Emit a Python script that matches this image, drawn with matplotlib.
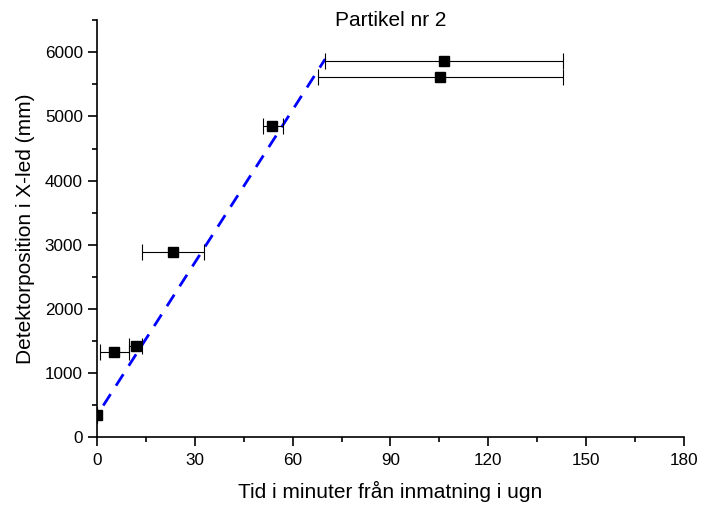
import numpy as np
from matplotlib import pyplot as plt
from matplotlib.ticker import MultipleLocator

plt.rcParams['font.family'] = ['Liberation Sans', 'DejaVu Sans']

# Measured points (time in minutes, detector position in mm)
tid = [0.0, 5.3, 12.0, 23.5, 53.8, 106.5, 105.2]
position = [350, 1330, 1430, 2890, 4855, 5870, 5610]
tid_min = [0.0, 1.0, 9.9, 13.9, 51.0, 69.8, 67.8]
tid_max = [0.0, 9.9, 13.9, 32.9, 57.0, 143.0, 143.0]

# Fitted line
fit_x = [2.0, 70.0]
fit_y = [495, 5895]


def main():
    tid_arr = np.array(tid)
    xerr = np.array([tid_arr - np.array(tid_min), np.array(tid_max) - tid_arr])

    fig = plt.figure(figsize=(7.01, 5.05), dpi=100)
    ax = fig.add_axes([0.138, 0.134, 0.838, 0.826])

    ax.plot(fit_x, fit_y, color="#0000ff", linewidth=2.0, linestyle=(0, (4.9, 3.6)), zorder=2)
    ax.errorbar(tid, position, xerr=xerr, fmt='s', color='black', markersize=6.5,
                ecolor='black', elinewidth=0.8, capsize=5.5, capthick=0.8, zorder=3)

    ax.set_xlim(0, 180)
    ax.set_ylim(0, 6500)
    ax.xaxis.set_major_locator(MultipleLocator(30))
    ax.xaxis.set_minor_locator(MultipleLocator(15))
    ax.yaxis.set_major_locator(MultipleLocator(1000))
    ax.yaxis.set_minor_locator(MultipleLocator(500))

    for side in ['top', 'right']:
        ax.spines[side].set_visible(False)
    for side in ['left', 'bottom']:
        ax.spines[side].set_linewidth(1.2)

    ax.tick_params(which='major', direction='out', length=6.5, width=1.2, labelsize=12.3)
    ax.tick_params(which='minor', direction='out', length=3.5, width=1.2)
    ax.tick_params(axis='x', which='major', pad=5)

    ax.set_xlabel("Tid i minuter från inmatning i ugn", fontsize=15, labelpad=9)
    ax.set_ylabel("Detektorposition i X-led (mm)", fontsize=15, labelpad=7)
    ax.text(0.5, 1.0, "Partikel nr 2", transform=ax.transAxes, ha='center', va='center',
            fontsize=15)

    fig.savefig("out.png", dpi=100)
    return 0


if __name__ == "__main__":
    main()
